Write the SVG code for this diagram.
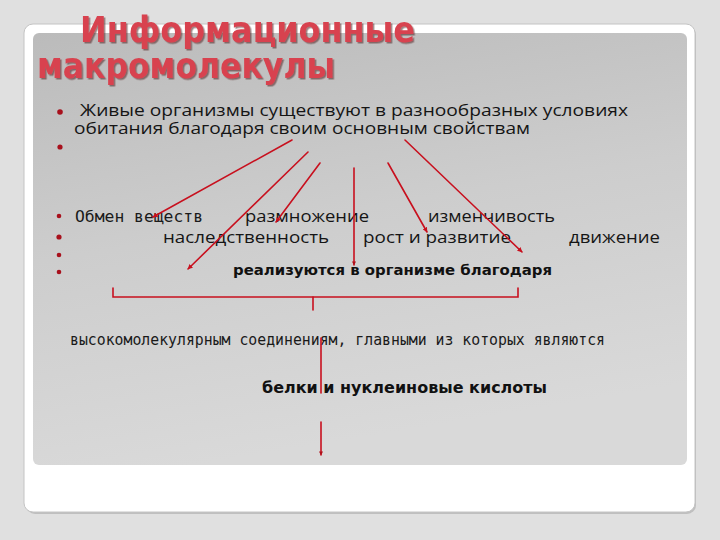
<svg xmlns="http://www.w3.org/2000/svg" width="720" height="540" viewBox="0 0 720 540">
  <defs>
    <linearGradient id="panel" x1="0" y1="0" x2="0.25" y2="1">
      <stop offset="0" stop-color="#bbbbbb"/>
      <stop offset="0.5" stop-color="#cdcdcd"/>
      <stop offset="1" stop-color="#d9d9d9"/>
    </linearGradient>
    <filter id="shadow" x="-5%" y="-20%" width="110%" height="140%">
      <feDropShadow dx="1.5" dy="1.5" stdDeviation="0.6" flood-color="#5a2a2a" flood-opacity="0.6"/>
    </filter>
    <marker id="ah" viewBox="0 0 10 10" refX="9" refY="5" markerWidth="5" markerHeight="5" orient="auto" markerUnits="userSpaceOnUse">
      <path d="M0,0 L10,5 L0,10 z" fill="#c8101e"/>
    </marker>
    <marker id="ahs" viewBox="0 0 10 10" refX="9" refY="5" markerWidth="4" markerHeight="4" orient="auto" markerUnits="userSpaceOnUse">
      <path d="M0,0 L10,5 L0,10 z" fill="#b0101a"/>
    </marker>
  </defs>
  <style>
    .title { font-family: "DejaVu Sans", "Liberation Sans", sans-serif; font-weight: bold; font-size: 35px; fill: #d8434f; }
    .body { font-family: "Open Sans", "Noto Sans", "DejaVu Sans", sans-serif; font-size: 16.5px; fill: #151515; }
    .mono { font-family: "DejaVu Sans Mono", "Liberation Mono", monospace; font-size: 16px; fill: #1a1a1a; }
    .bold { font-family: "DejaVu Sans", "Liberation Sans", sans-serif; font-weight: bold; fill: #111; }
    .bullet { fill: #a8101c; }
    .conn { stroke: #c8101e; stroke-width: 1.6; fill: none; stroke-linecap: round; }
  </style>

  <rect x="0" y="0" width="720" height="540" fill="#e0e0e0"/>
  <rect x="26" y="26" width="670" height="488" rx="9" fill="#a8a8a8" opacity="0.6"/>
  <rect x="24" y="24" width="671" height="488" rx="9" fill="#ffffff" stroke="#c4c4c4" stroke-width="1"/>
  <rect x="33" y="33" width="654" height="432" rx="6" fill="url(#panel)"/>

  <g id="title" filter="url(#shadow)">
    <text class="title" x="80" y="42" textLength="335" lengthAdjust="spacingAndGlyphs">Информационные</text>
    <text class="title" x="37" y="78" textLength="298" lengthAdjust="spacingAndGlyphs">макромолекулы</text>
  </g>

  <g id="bullets">
    <circle class="bullet" cx="60" cy="112" r="2.8"/>
    <circle class="bullet" cx="60" cy="147" r="2.6"/>
    <circle class="bullet" cx="59" cy="216" r="2.3"/>
    <circle class="bullet" cx="59" cy="237" r="2.6"/>
    <circle class="bullet" cx="59" cy="255" r="2.3"/>
    <circle class="bullet" cx="59" cy="272" r="2.3"/>
  </g>

  <g id="intro">
    <text class="body" x="80" y="116" font-size="16" textLength="548" lengthAdjust="spacingAndGlyphs">Живые организмы существуют в разнообразных условиях</text>
    <text class="body" x="74" y="134" font-size="16" textLength="456" lengthAdjust="spacingAndGlyphs">обитания благодаря своим  основным свойствам</text>
  </g>

  <g id="properties">
    <text class="mono" x="75" y="222" font-size="16.5" textLength="128" lengthAdjust="spacingAndGlyphs">Обмен веществ</text>
    <text class="body" x="245" y="222" textLength="124" lengthAdjust="spacingAndGlyphs">размножение</text>
    <text class="body" x="428" y="222" textLength="127" lengthAdjust="spacingAndGlyphs">изменчивость</text>
    <text class="body" x="163" y="243" textLength="166" lengthAdjust="spacingAndGlyphs">наследственность</text>
    <text class="body" x="363" y="243" textLength="148" lengthAdjust="spacingAndGlyphs">рост и развитие</text>
    <text class="body" x="569" y="243" textLength="91" lengthAdjust="spacingAndGlyphs">движение</text>
  </g>

  <g id="realize">
    <text class="bold" x="233" y="275" font-size="14" textLength="319" lengthAdjust="spacingAndGlyphs">реализуются в организме благодаря</text>
  </g>

  <g id="macro">
    <text class="mono" x="70" y="345" textLength="535" lengthAdjust="spacingAndGlyphs">высокомолекулярным соединениям, главными из которых являются</text>
  </g>

  <g id="proteins">
    <text class="bold" x="262" y="393" font-size="16" textLength="285" lengthAdjust="spacingAndGlyphs">белки и нуклеиновые кислоты</text>
  </g>

  <g id="connectors">
    <line class="conn" x1="292" y1="140" x2="153" y2="217" marker-end="url(#ah)"/>
    <line class="conn" x1="308" y1="152" x2="188" y2="269" marker-end="url(#ah)"/>
    <line class="conn" x1="320" y1="163" x2="276" y2="222" marker-end="url(#ah)"/>
    <line class="conn" x1="354" y1="168" x2="354" y2="265" stroke-width="1.1" marker-end="url(#ahs)"/>
    <line class="conn" x1="388" y1="163" x2="427" y2="232" marker-end="url(#ah)"/>
    <line class="conn" x1="405" y1="140" x2="522" y2="252" marker-end="url(#ah)"/>
    <path class="conn" d="M113,288 V297 H518 V288" stroke-width="2.2" stroke-linecap="butt"/>
    <path class="conn" d="M313,297 V310" stroke-width="2.2"/>
    <line class="conn" x1="321" y1="338" x2="321" y2="393" stroke-width="1.6"/>
    <line class="conn" x1="321" y1="422" x2="321" y2="455" stroke-width="1.8" marker-end="url(#ahs)"/>
  </g>
</svg>
